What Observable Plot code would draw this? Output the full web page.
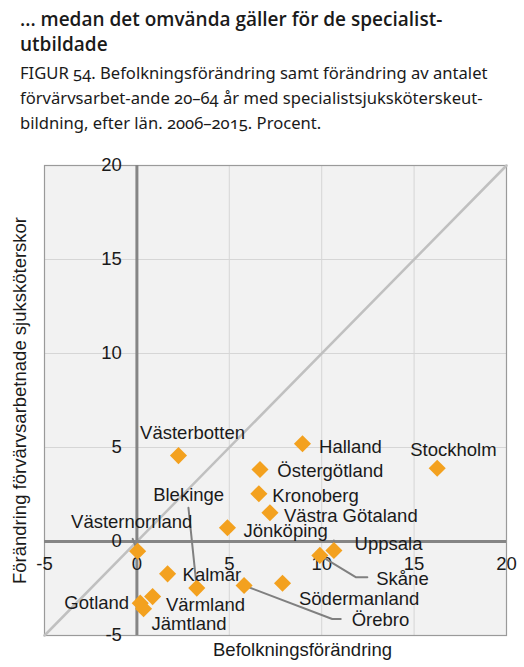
<!DOCTYPE html>
<html>
<head>
<meta charset="utf-8">
<script src="https://cdn.jsdelivr.net/npm/d3@7"></script>
<script src="https://cdn.jsdelivr.net/npm/@observablehq/plot@0.6"></script>
<style>
  html, body { margin: 0; padding: 0; background: #fff; }
  #head { height: 150px; box-sizing: border-box; padding: 7px 0 0 20px; color: #1a1a1a; }
  .t { font-family: "Open Sans", sans-serif; font-weight: 600; font-size: 19px; line-height: 24.5px; }
  .s { font-family: "Noto Sans", sans-serif; font-size: 16.6px; line-height: 25px; margin-top: 4px; font-variant-numeric: oldstyle-nums; }
  svg { display: block; }
</style>
</head>
<body>
<div id="head">
  <div class="t">... medan det omvända gäller för de specialist-<br>utbildade</div>
  <div class="s">FIGUR 54. Befolkningsförändring samt förändring av antalet<br>förvärvsarbet-ande 20–64 år med specialistsjuksköterskeut-<br>bildning, efter län. 2006–2015. Procent.</div>
</div>
<div id="chart"></div>
<script>
// Data: län, befolkningsförändring (x), förändring förvärvsarbetande specialistsjuksköterskor (y)
const lan = ["Västerbotten","Halland","Stockholm","Östergötland","Kronoberg","Västra Götaland","Jönköping","Uppsala","Skåne","Södermanland","Örebro","Kalmar","Blekinge","Västernorrland","Gotland","Värmland","Jämtland"];
const befolkning = [2.25, 8.96, 16.25, 6.66, 6.6, 7.2, 4.9, 10.66, 9.9, 7.88, 5.8, 1.66, 3.24, 0.04, 0.18, 0.85, 0.36];
const sjukskoterskor = [4.57, 5.2, 3.9, 3.83, 2.54, 1.53, 0.73, -0.48, -0.74, -2.22, -2.34, -1.72, -2.48, -0.52, -3.28, -2.93, -3.58];

// Label anchor positions (data units) and text anchor
const labelX = [3.01, 9.86, 17.13, 7.6, 7.33, 7.96, 5.77, 11.78, 12.95, 8.77, 11.62, 2.47, 2.8, -0.28, -0.42, 1.57, 0.79];
const labelY = [5.78, 5.02, 4.84, 3.74, 2.41, 1.35, 0.55, -0.16, -1.99, -3.05, -4.2, -1.81, 2.48, 1.03, -3.28, -3.4, -4.38];
const labelAnchor = ["middle","start","middle","start","start","start","start","start","start","start","start","start","middle","middle","end","start","start"];

// Leader lines: län and intermediate points (data units) toward the label
const leaderLan = ["Blekinge", "Västernorrland", "Uppsala", "Skåne", "Skåne", "Örebro", "Örebro"];
const leaderX = [2.79, -0.23, 10.66, 11.84, 12.47, 10.57, 11.03];
const leaderY = [1.79, 0.14, 0.05, -1.9, -1.9, -4.12, -4.12];

const ticks = [-5, 0, 5, 10, 15, 20];
const diagonal = [-5, 20];
const xTitle = "Befolkningsförändring";
const yTitle = "Förändring förvärvsarbetnade sjuksköterskor";

const points = lan.map((name, i) => ({name, x: befolkning[i], y: sjukskoterskor[i]}));
const labels = lan.map((name, i) => ({name, x: labelX[i], y: labelY[i], anchor: labelAnchor[i]}));
const leaders = [];
for (const name of [...new Set(leaderLan)]) {
  const p = points.find(d => d.name === name);
  leaders.push({name, x: p.x, y: p.y});
  leaderLan.forEach((n, i) => { if (n === name) leaders.push({name, x: leaderX[i], y: leaderY[i]}); });
}

const font = "'Liberation Sans', Arial, sans-serif";
const fs = 18.5;
const chart = Plot.plot({
  width: 524,
  height: 517,
  marginTop: 15,
  marginBottom: 32,
  marginLeft: 44,
  marginRight: 18,
  style: {fontFamily: font, fontSize: fs + "px", color: "#1a1a1a", background: "#fff"},
  x: {domain: [-5, 20], axis: null},
  y: {domain: [-5, 20], axis: null},
  marks: [
    Plot.frame({fill: "#f2f2f2", stroke: "none"}),
    Plot.gridX(ticks, {stroke: "#d6d6d6", strokeOpacity: 1, strokeWidth: 1}),
    Plot.gridY(ticks, {stroke: "#d6d6d6", strokeOpacity: 1, strokeWidth: 1}),
    Plot.frame({stroke: "#9a9a9a", strokeWidth: 1.2}),
    Plot.line(diagonal, {x: d => d, y: d => d, stroke: "#c0c0c0", strokeWidth: 2.5}),
    Plot.ruleX([0], {stroke: "#858585", strokeWidth: 3}),
    Plot.ruleY([0], {stroke: "#858585", strokeWidth: 3}),
    Plot.text(ticks, {x: d => d, y: 0, text: d => String(d), dy: 23, fill: "#1a1a1a", fontSize: fs}),
    Plot.text(ticks, {x: 0, y: d => d, text: d => String(d), dx: -15, textAnchor: "end", fill: "#1a1a1a", fontSize: fs}),
    Plot.line(leaders, {x: "x", y: "y", z: "name", stroke: "#808080", strokeWidth: 2}),
    Plot.dot(points, {x: "x", y: "y", symbol: "diamond2", r: 7.7, fill: "#f3a11f", stroke: "none"}),
    Plot.text(labels.filter(d => d.anchor === "start"), {x: "x", y: "y", text: "name", textAnchor: "start", fill: "#1a1a1a", fontSize: fs}),
    Plot.text(labels.filter(d => d.anchor === "middle"), {x: "x", y: "y", text: "name", textAnchor: "middle", fill: "#1a1a1a", fontSize: fs}),
    Plot.text(labels.filter(d => d.anchor === "end"), {x: "x", y: "y", text: "name", textAnchor: "end", fill: "#1a1a1a", fontSize: fs}),
    Plot.text([xTitle], {frameAnchor: "bottom", textAnchor: "middle", dx: 27, dy: 20, fill: "#1a1a1a", fontSize: fs}),
    Plot.text([yTitle], {frameAnchor: "left", textAnchor: "middle", dx: -24, rotate: -90, fill: "#1a1a1a", fontSize: fs})
  ]
});
document.getElementById("chart").appendChild(chart);
</script>
</body>
</html>
